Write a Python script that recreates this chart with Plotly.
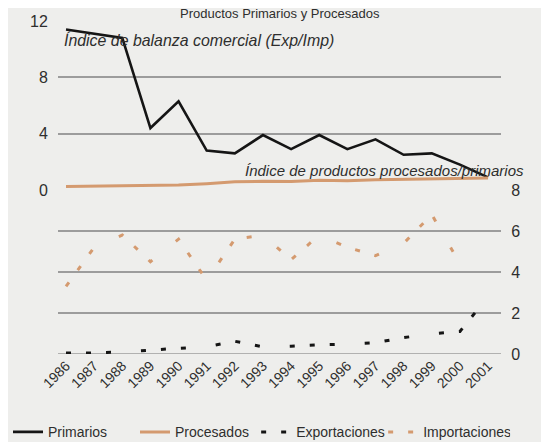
import plotly.graph_objects as go

# Data
years = list(range(1986, 2002))
primarios = [11.4, 11.1, 10.8, 4.4, 6.3, 2.8, 2.6, 3.9, 2.9, 3.9, 2.9, 3.6, 2.5, 2.6, 1.8, 0.9]
procesados = [0.25, 0.27, 0.3, 0.32, 0.36, 0.45, 0.58, 0.62, 0.6, 0.7, 0.66, 0.72, 0.76, 0.8, 0.84, 0.85]
exportaciones = [0.05, 0.05, 0.1, 0.2, 0.28, 0.35, 0.62, 0.35, 0.38, 0.45, 0.48, 0.55, 0.8, 0.98, 1.1, 2.8]
importaciones = [3.3, 5.2, 5.8, 4.5, 5.6, 3.6, 5.6, 5.8, 4.6, 5.8, 5.2, 4.8, 5.4, 6.8, 4.4, None]

top_ticks = [0, 4, 8, 12]
bottom_ticks = [0, 2, 4, 6, 8]

BG = "#eeeeec"
GRID = "#9c9c9c"
BLACK = "#151515"
ORANGE = "#d49a6f"
TEXT = "#2e2e2e"
FONT = "Liberation Sans"
dash_pattern = "5px,15px,5px,15px,5px,30px"

fig = go.Figure()

fig.add_trace(go.Scatter(
    x=years, y=primarios, name="Primarios", mode="lines",
    line=dict(color=BLACK, width=2.6), xaxis="x", yaxis="y", legend="legend",
))
fig.add_trace(go.Scatter(
    x=years, y=procesados, name="Procesados", mode="lines",
    line=dict(color=ORANGE, width=3), xaxis="x", yaxis="y", legend="legend",
))
fig.add_trace(go.Scatter(
    x=years, y=exportaciones, name="Exportaciones", mode="lines",
    line=dict(color=BLACK, width=3, dash=dash_pattern), xaxis="x", yaxis="y2",
    legend="legend2",
))
fig.add_trace(go.Scatter(
    x=years, y=importaciones, name="Importaciones", mode="lines",
    line=dict(color=ORANGE, width=3, dash=dash_pattern), xaxis="x", yaxis="y2",
    legend="legend2",
))

split = 0.4925

legend_style = dict(
    orientation="h", y=0.04, xref="container", yref="container",
    xanchor="left", yanchor="middle",
    entrywidth=82, entrywidthmode="pixels",
    font=dict(size=14, color=TEXT),
    bgcolor="rgba(0,0,0,0)",
    itemwidth=30,
)

fig.update_layout(
    width=549,
    height=442,
    paper_bgcolor=BG,
    plot_bgcolor=BG,
    margin=dict(l=50, r=56, t=13, b=96),
    font=dict(family=FONT, color=TEXT, size=13),
    showlegend=True,
    legend=dict(x=0.0, **legend_style),
    legend2=dict(x=0.452, **legend_style),
    xaxis=dict(
        range=[1985.715, 2001.46],
        tickvals=years,
        ticktext=[str(y) for y in years],
        tickangle=-45,
        showgrid=False,
        zeroline=False,
        showline=False,
        automargin=False,
        tickfont=dict(size=14, color=TEXT),
        anchor="y2",
    ),
    yaxis=dict(
        domain=[split, 1],
        range=[0, 12],
        tickvals=top_ticks,
        showgrid=True,
        gridcolor=GRID,
        gridwidth=1.5,
        zeroline=False,
        showline=False,
        automargin=False,
        ticks="outside", ticklen=6, tickcolor="rgba(0,0,0,0)",
        tickfont=dict(size=16, color=TEXT),
        side="left",
    ),
    yaxis2=dict(
        domain=[0, split],
        range=[0, 8],
        tickvals=bottom_ticks,
        showgrid=True,
        gridcolor=GRID,
        gridwidth=1.5,
        zeroline=False,
        showline=False,
        automargin=False,
        ticks="outside", ticklen=6, tickcolor="rgba(0,0,0,0)",
        tickfont=dict(size=16, color=TEXT),
        side="right",
        anchor="x",
    ),
)

# bottom gridline at 0 (plotly drops the edge gridline)
fig.add_shape(
    type="line", xref="paper", yref="y2", x0=0, x1=1, y0=0, y1=0,
    line=dict(color=GRID, width=1.5), layer="below",
)

fig.add_annotation(
    x=1985.85, y=10.65, xref="x", yref="y", xanchor="left", yanchor="middle",
    text="<i>Índice de balanza comercial (Exp/Imp)</i>", showarrow=False,
    font=dict(size=15.9, color=TEXT),
)
fig.add_annotation(
    x=1992.3, y=1.35, xref="x", yref="y", xanchor="left", yanchor="middle",
    text="<i>Índice de productos procesados/primarios</i>", showarrow=False,
    font=dict(size=15, color=TEXT),
)
fig.add_annotation(
    x=0.5, y=1.022, xref="paper", yref="paper", xanchor="center", yanchor="middle",
    text="Productos Primarios y Procesados", showarrow=False,
    font=dict(size=13, color=TEXT),
)

fig.write_html("out.html")
